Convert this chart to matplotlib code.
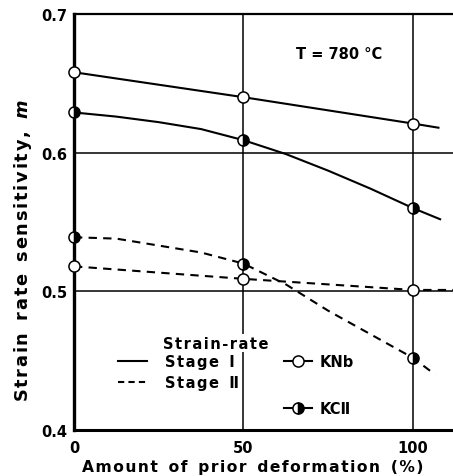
import matplotlib.pyplot as plt
from matplotlib.lines import Line2D

# measured points
x_pts = [0, 50, 100]
knb_s1 = [0.658, 0.640, 0.621]
kc2_s1 = [0.629, 0.609, 0.560]
knb_s2 = [0.518, 0.509, 0.501]
kc2_s2 = [0.539, 0.520, 0.452]

# drawn curves
knb_s1_cx = [0, 50, 100, 107.5]
knb_s1_cy = [0.658, 0.640, 0.621, 0.618]
kc2_s1_cx = [0, 12.5, 25, 37.5, 50, 62.5, 75, 87.5, 100, 108]
kc2_s1_cy = [0.629, 0.626, 0.622, 0.617, 0.609, 0.599, 0.587, 0.574, 0.560, 0.552]
knb_s2_cx = [0, 50, 100, 112]
knb_s2_cy = [0.518, 0.509, 0.501, 0.501]
kc2_s2_cx = [0, 12.5, 25, 37.5, 50, 62.5, 75, 87.5, 100, 106.5]
kc2_s2_cy = [0.539, 0.538, 0.533, 0.528, 0.520, 0.505, 0.486, 0.469, 0.452, 0.440]

xticks = [0, 50, 100]
yticks = [0.4, 0.5, 0.6, 0.7]
ytick_labels = ['0.4', '0.5', '0.6', '0.7']

plt.rcParams['font.family'] = ['DejaVu Sans']
plt.rcParams['font.weight'] = 'bold'
plt.rcParams['axes.labelweight'] = 'bold'


def spaced(s):
    # the original lettering is widely tracked
    return '\u200a'.join(s)


fig = plt.figure(figsize=(4.53, 4.77), dpi=100)
ax = fig.add_axes([74 / 453, 1 - 431 / 477, 1 - 74 / 453, (431 - 15) / 477])
ax.set_xlim(0, 111.8)
ax.set_ylim(0.4, 0.7)

lw = 1.5
dash = (4, 3)
ax.plot(knb_s1_cx, knb_s1_cy, color='black', lw=lw)
ax.plot(kc2_s1_cx, kc2_s1_cy, color='black', lw=lw)
ax.plot(knb_s2_cx, knb_s2_cy, color='black', lw=lw, dashes=dash)
ax.plot(kc2_s2_cx, kc2_s2_cy, color='black', lw=lw, dashes=dash)

mk = dict(marker='o', ms=8, mew=1.1, mec='black', ls='none', zorder=5, clip_on=False)
for ys in (knb_s1, knb_s2):
    ax.plot(x_pts, ys, mfc='white', **mk)
for ys in (kc2_s1, kc2_s2):
    ax.plot(x_pts, ys, mfc='black', fillstyle='right', markerfacecoloralt='white', **mk)

ax.set_xticks(xticks)
ax.set_yticks(yticks)
ax.set_yticklabels(ytick_labels)
ax.tick_params(length=0, labelsize=10.5)
ax.tick_params(axis='x', pad=7)
ax.tick_params(axis='y', pad=5)
ax.grid(True, color='black', lw=1.1)

ax.spines['right'].set_visible(False)
ax.spines['left'].set_linewidth(2.4)
ax.spines['bottom'].set_linewidth(2.2)
ax.spines['top'].set_linewidth(1.6)

ax.set_xlabel('  '.join(spaced(w) for w in 'Amount of prior deformation (%)'.split()),
              fontsize=11.2, labelpad=3, x=0.471)
ax.set_ylabel('  '.join(spaced(w) for w in 'Strain rate sensitivity,'.split())
              + '  $\\mathbfit{m}$', fontsize=12.8, labelpad=5, y=0.433)

ax.text(0.587, 0.905, 'T = 780 °C', transform=ax.transAxes, fontsize=10.5,
        va='center', ha='left')

# legend: line styles
ax.text(0.235, 0.209, spaced('Strain-rate'), transform=ax.transAxes, fontsize=10.5,
        va='center', ha='left', bbox=dict(fc='white', ec='none', pad=1))
style_handles = [Line2D([], [], color='black', lw=lw),
                 Line2D([], [], color='black', lw=lw, dashes=(3, 2))]
leg1 = ax.legend(style_handles, [spaced('Stage') + '  Ⅰ', spaced('Stage') + '  Ⅱ'],
                 frameon=False, loc='upper left', bbox_to_anchor=(0.116, 0.183),
                 fontsize=10.5, handlelength=2.0, handletextpad=1.2, labelspacing=0.45,
                 borderpad=0, borderaxespad=0)
ax.add_artist(leg1)

# legend: materials
mat_handles = [Line2D([], [], color='black', lw=lw, marker='o', ms=8, mew=1.1, mfc='white'),
               Line2D([], [], color='black', lw=lw, marker='o', ms=8, mew=1.1, mfc='black',
                      fillstyle='right', markerfacecoloralt='white')]
leg2 = ax.legend(mat_handles, ['KNb', 'KCⅡ'], frameon=False,
                 loc='upper left', bbox_to_anchor=(0.555, 0.183), fontsize=10.5,
                 handlelength=1.9, handletextpad=0.5, labelspacing=2.2,
                 borderpad=0, borderaxespad=0)

fig.savefig('out.png', dpi=100)
